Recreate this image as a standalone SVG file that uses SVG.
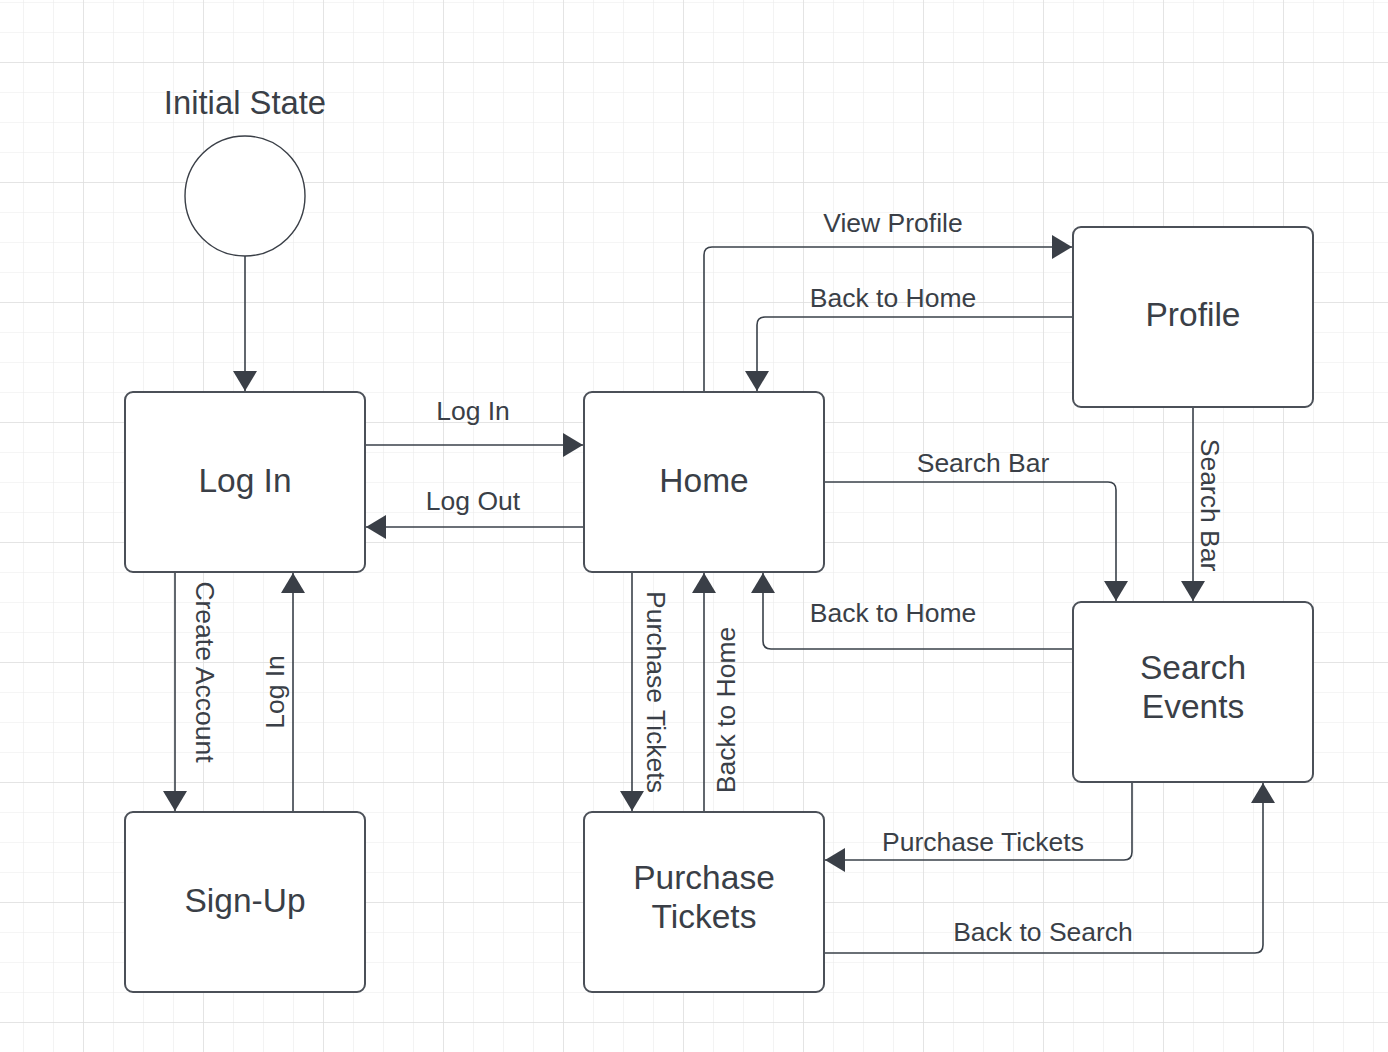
<svg xmlns="http://www.w3.org/2000/svg" width="1388" height="1052" viewBox="0 0 1388 1052">
<defs>
<pattern id="minor" x="23" y="2" width="30" height="30" patternUnits="userSpaceOnUse">
<path d="M0,0 V30 M0,0 H30" fill="none" stroke="#ebebeb" stroke-width="1.2"/>
</pattern>
<pattern id="major" x="83" y="62" width="120" height="120" patternUnits="userSpaceOnUse">
<path d="M0,0 V120 M0,0 H120" fill="none" stroke="#dedede" stroke-width="1.4"/>
</pattern>
<marker id="arr" markerUnits="userSpaceOnUse" markerWidth="20" markerHeight="24" refX="20" refY="12" orient="auto" viewBox="0 0 20 24">
<path d="M0,0 L20,12 L0,24 Z" fill="#3a3f47"/>
</marker>
<style>
.box{fill:#ffffff;stroke:#4b5058;stroke-width:2}
.node{font-family:"Liberation Sans",Arial,sans-serif;font-size:33.5px;fill:#3a3f47;text-anchor:middle}
.lbl{font-family:"Liberation Sans",Arial,sans-serif;font-size:26.5px;fill:#3a3f47;text-anchor:middle}
.edge{fill:none;stroke:#3a414a;stroke-width:1.6;marker-end:url(#arr)}
</style>
</defs>
<rect width="1388" height="1052" fill="#ffffff"/>
<rect width="1388" height="1052" fill="url(#minor)"/>
<rect width="1388" height="1052" fill="url(#major)"/>

<g id="connectors">
<path class="edge" d="M245,256 V391"/>
<path class="edge" d="M365,445 H583"/>
<path class="edge" d="M584,527 H366"/>
<path class="edge" d="M175,572 V811"/>
<path class="edge" d="M293,812 V573"/>
<path class="edge" d="M632,572 V811"/>
<path class="edge" d="M704,812 V573"/>
<path class="edge" d="M704,392 V255 Q704,247 712,247 H1072"/>
<path class="edge" d="M1073,317 H765 Q757,317 757,325 V391"/>
<path class="edge" d="M824,482 H1108 Q1116,482 1116,490 V601"/>
<path class="edge" d="M1193,407 V601"/>
<path class="edge" d="M1073,649 H771 Q763,649 763,641 V573"/>
<path class="edge" d="M1132,782 V852 Q1132,860 1124,860 H825"/>
<path class="edge" d="M824,953 H1255 Q1263,953 1263,945 V783"/>
<text class="lbl" x="473" y="420">Log In</text>
<text class="lbl" x="473" y="510">Log Out</text>
<text class="lbl" x="893" y="232">View Profile</text>
<text class="lbl" x="893" y="307">Back to Home</text>
<text class="lbl" x="983" y="472">Search Bar</text>
<text class="lbl" x="893" y="622">Back to Home</text>
<text class="lbl" x="983" y="851">Purchase Tickets</text>
<text class="lbl" x="1043" y="941">Back to Search</text>
<text class="lbl" transform="translate(196,672) rotate(90)">Create Account</text>
<text class="lbl" transform="translate(284,692) rotate(-90)">Log In</text>
<text class="lbl" transform="translate(647,692) rotate(90)">Purchase Tickets</text>
<text class="lbl" transform="translate(735,710) rotate(-90)">Back to Home</text>
<text class="lbl" transform="translate(1201,505) rotate(90)">Search Bar</text>
</g>

<g id="initial">
<text class="node" x="245" y="114" style="font-size:32.8px">Initial State</text>
<circle cx="245" cy="196" r="60" fill="#ffffff" stroke="#3a3f47" stroke-width="1.4"/>
</g>
<g id="login">
<rect class="box" x="125" y="392" width="240" height="180" rx="8"/>
<text class="node" x="245" y="492">Log In</text>
</g>
<g id="home">
<rect class="box" x="584" y="392" width="240" height="180" rx="8"/>
<text class="node" x="704" y="492">Home</text>
</g>
<g id="profile">
<rect class="box" x="1073" y="227" width="240" height="180" rx="8"/>
<text class="node" x="1193" y="326">Profile</text>
</g>
<g id="search">
<rect class="box" x="1073" y="602" width="240" height="180" rx="8"/>
<text class="node" x="1193" y="679">Search</text>
<text class="node" x="1193" y="718">Events</text>
</g>
<g id="signup">
<rect class="box" x="125" y="812" width="240" height="180" rx="8"/>
<text class="node" x="245" y="912">Sign-Up</text>
</g>
<g id="purchase">
<rect class="box" x="584" y="812" width="240" height="180" rx="8"/>
<text class="node" x="704" y="889">Purchase</text>
<text class="node" x="704" y="928">Tickets</text>
</g>
</svg>
